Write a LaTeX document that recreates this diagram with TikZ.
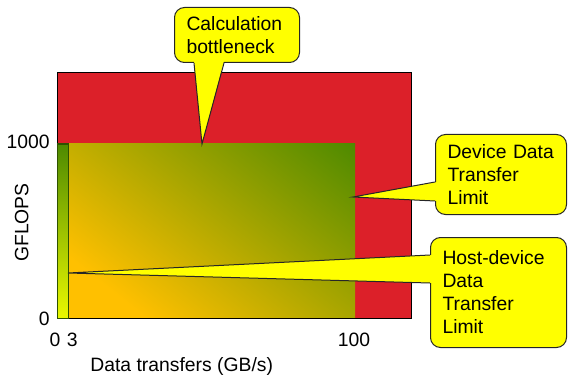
\documentclass[tikz,border=0pt]{standalone}
\usepackage{fontspec}
\setmainfont{Liberation Sans}
\usetikzlibrary{calc}

\definecolor{roofred}{HTML}{DC2029}
\definecolor{noteyellow}{HTML}{FFFF00}
\definecolor{peakgreen}{HTML}{4E8A00}
\definecolor{lowamber}{HTML}{FFC000}
\definecolor{barlime}{HTML}{EAF800}
\definecolor{bargreen}{HTML}{2E5200}

\begin{document}
\begin{tikzpicture}[x=0.75pt,y=-0.75pt,font=\fontsize{14.5}{17.25}\selectfont,
        lbl/.style={inner sep=0pt},
        note/.style={draw=black!85,line width=0.75pt,fill=noteyellow,rounded corners=7.5pt,
            anchor=north west,align=left,inner xsep=9pt,inner ysep=3pt},
        tip/.style={draw=black!85,line width=0.75pt}]
    \useasboundingbox (0,0) rectangle (568,378);
    % bounds of the roofline
    \fill[roofred] (57,73) rectangle (411,318);
    \begin{scope}
        \clip (68,144) rectangle (355,318);
        \fill[lowamber] (68,144) rectangle (355,318);
        \begin{scope}[transform canvas={shift={(68,318)},rotate=51.5}]
            \shade[left color=lowamber,right color=peakgreen] (48,-450) rectangle (315,450);
            \fill[peakgreen] (314.5,-450) rectangle (700,450);
        \end{scope}
    \end{scope}
    \draw[line width=0.75pt] (57,73) rectangle (411,318);
    \draw[line width=0.75pt,draw=bargreen,top color=peakgreen,bottom color=barlime] (57,144) rectangle (68,318);

    % axes
    \node[lbl,anchor=base east] (ymax) at (50,148) {1000};
    \node[lbl,anchor=base east] (ymin) at (50,325) {0};
    \node[lbl,anchor=base] (xmin) at (55,346.7) {0};
    \node[lbl,anchor=base] (xhost) at (72.3,346.7) {3};
    \node[lbl,anchor=base] (xdev) at (354,346.7) {100};
    \node[lbl,anchor=base] (xlabel) at (181.7,371.7) {Data transfers (GB/s)};
    \node[lbl,anchor=base,rotate=90] (ylabel) at (28.3,222.5) {GFLOPS};

    % callouts
    \node[note,text width=75.75pt,minimum height=41.25pt] (calc) at (174,7) {Calculation\\bottleneck};
    \node[note,text width=80.25pt,minimum height=60pt] (devlim) at (435,134) {Device Data\\Transfer\\Limit};
    \node[note,text width=84pt,minimum height=82.5pt] (hostlim) at (430,237) {Host-device\\Data\\Transfer\\Limit};
    \coordinate (calctip) at (202,144);
    \coordinate (devtip) at (353,197);
    \coordinate (hosttip) at (68,273);

    \fill[noteyellow] ($(calc.south west)+(20,-2)$) -- (calctip) -- ($(calc.south west)+(50,-2)$) -- cycle;
    \draw[tip] ($(calc.south west)+(20,0)$) -- (calctip) -- ($(calc.south west)+(50,0)$);
    \fill[noteyellow] ($(devlim.north west)+(2,48)$) -- (devtip) -- ($(devlim.north west)+(2,67)$) -- cycle;
    \draw[tip] ($(devlim.north west)+(0,48)$) -- (devtip) -- ($(devlim.north west)+(0,67)$);
    \fill[noteyellow] ($(hostlim.north west)+(2,18)$) -- (hosttip) -- ($(hostlim.north west)+(2,46)$) -- cycle;
    \draw[tip] ($(hostlim.north west)+(0,18)$) -- (hosttip) -- ($(hostlim.north west)+(0,46)$);
\end{tikzpicture}
\end{document}
